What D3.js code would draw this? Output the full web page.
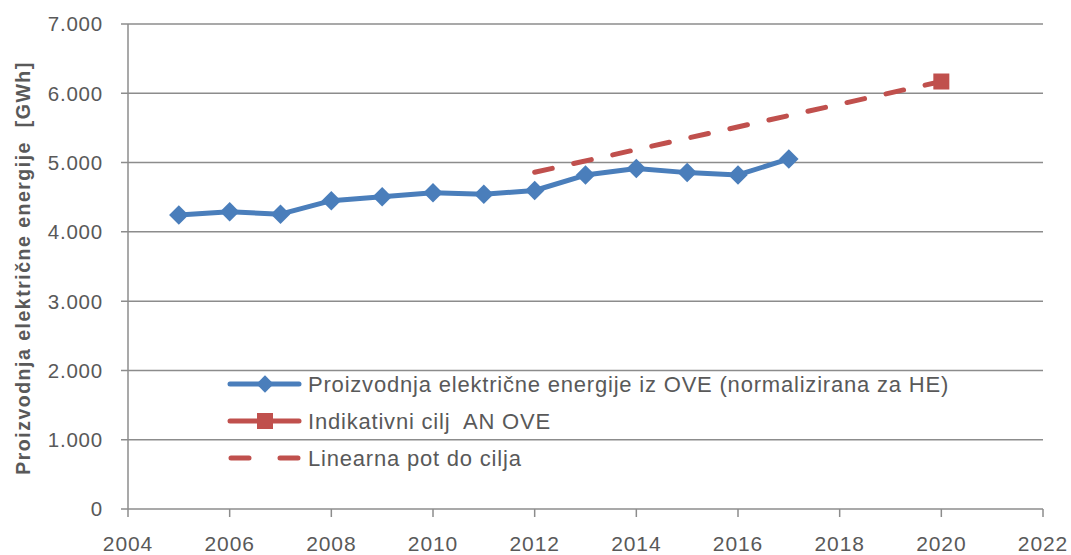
<!DOCTYPE html>
<html><head><meta charset="utf-8">
<script src="https://cdn.jsdelivr.net/npm/d3@7"></script>
<style>body{margin:0;background:#fff}svg{display:block}text{white-space:pre}</style>
</head><body>
<svg id="c" width="1071" height="555"></svg>
<script>
const years = [2005,2006,2007,2008,2009,2010,2011,2012,2013,2014,2015,2016,2017];
const production = [4243,4290,4255,4450,4507,4565,4542,4597,4820,4915,4855,4822,5052];
const targetYear = [2020];
const targetValue = [6170];
const pathYears = [2012,2020];
const pathValues = [4860,6170];
const xTicks = [2004,2006,2008,2010,2012,2014,2016,2018,2020,2022];
const yTicks = [0,1000,2000,3000,4000,5000,6000,7000];
const legendLabels = ["Proizvodnja električne energije iz OVE (normalizirana za HE)","Indikativni cilj  AN OVE","Linearna pot do cilja"];
const yTitle = "Proizvodnja električne energije  [GWh]";

const svg = d3.select("#c");
const L=128,R=1043,T=24,B=509;
const x = d3.scaleLinear().domain([2004,2022]).range([L,R]);
const y = d3.scaleLinear().domain([0,7000]).range([B,T]);
const grid="#8c8c8c", txt="#595959", blue="#4a7ebb", red="#c0504d";
const font="'Liberation Sans', Arial, sans-serif";
const fmt = v => v===0 ? "0" : d3.format(",")(v).replace(/,/g,".");

// gridlines
svg.append("g").selectAll("line").data(yTicks).join("line")
  .attr("x1",L-7).attr("x2",R).attr("y1",d=>y(d)).attr("y2",d=>y(d))
  .attr("stroke",grid).attr("stroke-width",1.5);
// y axis line
svg.append("line").attr("x1",L).attr("x2",L).attr("y1",T).attr("y2",B).attr("stroke",grid).attr("stroke-width",1.5);
// x ticks
svg.append("g").selectAll("line").data(xTicks).join("line")
  .attr("x1",d=>x(d)).attr("x2",d=>x(d)).attr("y1",B).attr("y2",B+8)
  .attr("stroke",grid).attr("stroke-width",1.5);
// y labels
svg.append("g").selectAll("text").data(yTicks).join("text")
  .attr("x",L-25).attr("y",d=>y(d)).attr("dy","0.36em").attr("text-anchor","end")
  .attr("font-family",font).attr("font-size",20.5).attr("letter-spacing",0.8).attr("fill",txt).text(fmt);
// x labels
svg.append("g").selectAll("text").data(xTicks).join("text")
  .attr("x",d=>x(d)).attr("y",B+42).attr("text-anchor","middle")
  .attr("font-family",font).attr("font-size",21).attr("letter-spacing",0.9).attr("fill",txt).text(d=>d);
// y title
svg.append("text").attr("transform",`translate(30,268) rotate(-90)`)
  .attr("text-anchor","middle").attr("font-family",font).attr("font-size",19.5)
  .attr("letter-spacing",1.5)
  .attr("font-weight","bold").attr("fill",txt).text(yTitle);

// linear path
const lineGen = d3.line().x(d=>x(d[0])).y(d=>y(d[1]));
svg.append("path").datum(pathYears.map((d,i)=>[d,pathValues[i]]))
  .attr("d",lineGen).attr("fill","none").attr("stroke",red).attr("stroke-width",5)
  .attr("stroke-dasharray","18,22").attr("stroke-linecap","round");
// production line
svg.append("path").datum(years.map((d,i)=>[d,production[i]]))
  .attr("d",lineGen).attr("fill","none").attr("stroke",blue).attr("stroke-width",5)
  .attr("stroke-linejoin","round");
svg.append("g").selectAll("path").data(years).join("path")
  .attr("transform",(d,i)=>`translate(${x(d)},${y(production[i])}) rotate(45)`)
  .attr("d",d3.symbol().type(d3.symbolSquare).size(190)).attr("fill",blue);
// target
svg.append("g").selectAll("rect").data(targetYear).join("rect")
  .attr("x",d=>x(d)-8).attr("y",(d,i)=>y(targetValue[i])-8).attr("width",16).attr("height",16)
  .attr("fill",red);

// legend
const lg = svg.append("g");
const rows=[384,421,458];
lg.append("line").attr("x1",230).attr("x2",299).attr("y1",rows[0]).attr("y2",rows[0]).attr("stroke",blue).attr("stroke-width",5).attr("stroke-linecap","round");
lg.append("path").attr("transform",`translate(265,${rows[0]}) rotate(45)`).attr("d",d3.symbol().type(d3.symbolSquare).size(150)).attr("fill",blue);
lg.append("line").attr("x1",230).attr("x2",299).attr("y1",rows[1]).attr("y2",rows[1]).attr("stroke",red).attr("stroke-width",5).attr("stroke-linecap","round");
lg.append("rect").attr("x",257).attr("y",rows[1]-8).attr("width",16).attr("height",16).attr("fill",red);
lg.append("line").attr("x1",231).attr("x2",298).attr("y1",rows[2]).attr("y2",rows[2]).attr("stroke",red).attr("stroke-width",5).attr("stroke-linecap","round").attr("stroke-dasharray","18,31");
lg.selectAll("text.l").data(legendLabels).join("text").attr("class","l")
  .attr("x",308).attr("y",(d,i)=>rows[i]).attr("dy","0.36em")
  .attr("font-family",font).attr("font-size",22).attr("letter-spacing",0.8).attr("fill",txt).text(d=>d);
</script>
</body></html>
